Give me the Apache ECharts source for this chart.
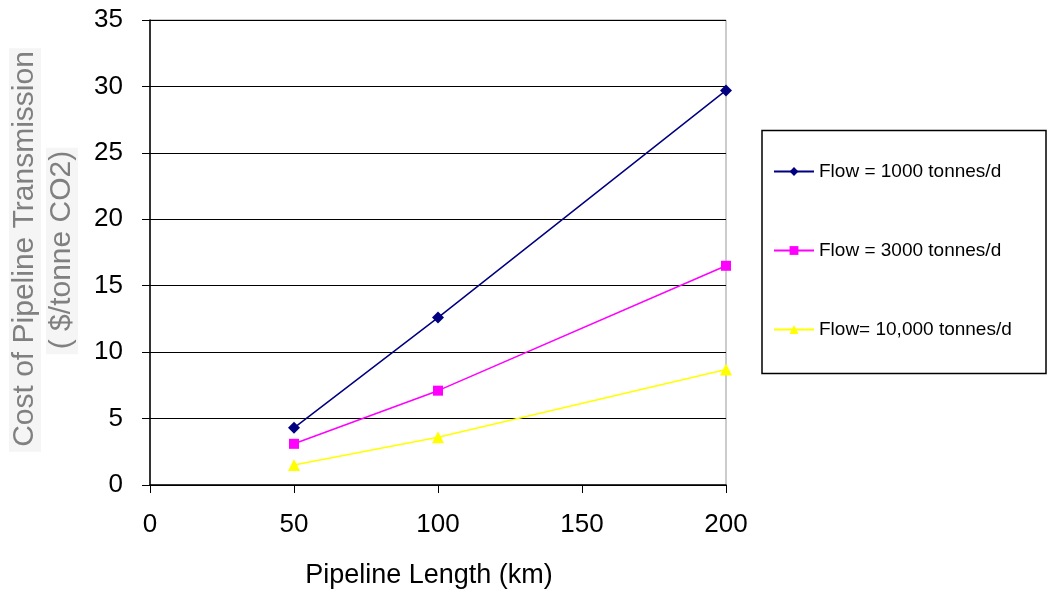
<!DOCTYPE html>
<html>
<head>
<meta charset="utf-8">
<script src="https://cdn.jsdelivr.net/npm/echarts@6/dist/echarts.min.js"></script>
<style>html,body{margin:0;padding:0;background:#fff}#c{width:1047px;height:595px}</style>
</head>
<body>
<div id="c"></div>
<script>
var lengthsKm = [50, 100, 200];
var flow1000 = [4.3, 12.6, 29.7];
var flow3000 = [3.1, 7.1, 16.5];
var flow10000 = [1.5, 3.6, 8.7];
var seriesNames = ['Flow = 1000 tonnes/d', 'Flow = 3000 tonnes/d', 'Flow= 10,000 tonnes/d'];
var yTitle1 = 'Cost of Pipeline Transmission';
var yTitle2 = '( $/tonne CO2)';
var xTitle = 'Pipeline Length (km)';

function pairs(xs, ys) { return xs.map(function (x, i) { return [x, ys[i]]; }); }

var chart = echarts.init(document.getElementById('c'), null, { renderer: 'canvas' });
var font = 'Liberation Sans, Arial, sans-serif';
chart.setOption({
  animation: false,
  backgroundColor: '#ffffff',
  grid: { left: 150, right: 321, top: 20, bottom: 110, show: true, borderColor: '#999999', borderWidth: 1 },
  xAxis: {
    type: 'value', min: 0, max: 200, interval: 50,
    name: xTitle, nameLocation: 'middle', nameGap: 77,
    nameTextStyle: { fontFamily: font, fontSize: 27, color: '#000', padding: [0, 18, 0, 0] },
    axisLine: { show: true, onZero: false, lineStyle: { color: '#000', width: 1.5 } },
    axisTick: { show: true, length: 8, lineStyle: { color: '#000' } },
    axisLabel: { fontFamily: font, fontSize: 26, color: '#000', margin: 27 },
    splitLine: { show: false }
  },
  yAxis: {
    type: 'value', min: 0, max: 35, interval: 5,
    axisLine: { show: true, lineStyle: { color: '#000', width: 1.5 } },
    axisTick: { show: true, length: 8, lineStyle: { color: '#000' } },
    axisLabel: { fontFamily: font, fontSize: 26, color: '#000', margin: 27 },
    splitLine: { show: true, lineStyle: { color: '#000', width: 1 } }
  },
  legend: {
    orient: 'vertical', left: 768, top: 157,
    itemWidth: 40, itemHeight: 11, itemGap: 60,
    textStyle: { fontFamily: font, fontSize: 19, color: '#000' },
    data: seriesNames
  },
  graphic: [
    { type: 'rect', shape: { x: 762, y: 130.5, width: 284, height: 243 },
      style: { fill: 'none', stroke: '#000', lineWidth: 1.5 }, z: -1 },
    { type: 'text', x: 25, y: 250, rotation: Math.PI / 2,
      style: { text: yTitle1, font: '30px Liberation Sans, Arial, sans-serif', fill: '#808080',
        backgroundColor: '#f5f5f5', align: 'center', verticalAlign: 'middle', padding: [2, 3, 0, 5] } },
    { type: 'text', x: 62, y: 251, rotation: Math.PI / 2,
      style: { text: yTitle2, font: '30px Liberation Sans, Arial, sans-serif', fill: '#808080',
        backgroundColor: '#f5f5f5', align: 'center', verticalAlign: 'middle', padding: [2, 3, 0, 5] } }
  ],
  series: [
    { name: seriesNames[0], type: 'line', data: pairs(lengthsKm, flow1000),
      symbol: 'diamond', symbolSize: 12,
      lineStyle: { color: '#000080', width: 1.5 }, itemStyle: { color: '#000080' } },
    { name: seriesNames[1], type: 'line', data: pairs(lengthsKm, flow3000),
      symbol: 'rect', symbolSize: 10,
      lineStyle: { color: '#ff00ff', width: 1.5 }, itemStyle: { color: '#ff00ff' } },
    { name: seriesNames[2], type: 'line', data: pairs(lengthsKm, flow10000),
      symbol: 'triangle', symbolSize: 12,
      lineStyle: { color: '#ffff00', width: 1.5 }, itemStyle: { color: '#ffff00' } }
  ]
});
</script>
</body>
</html>
